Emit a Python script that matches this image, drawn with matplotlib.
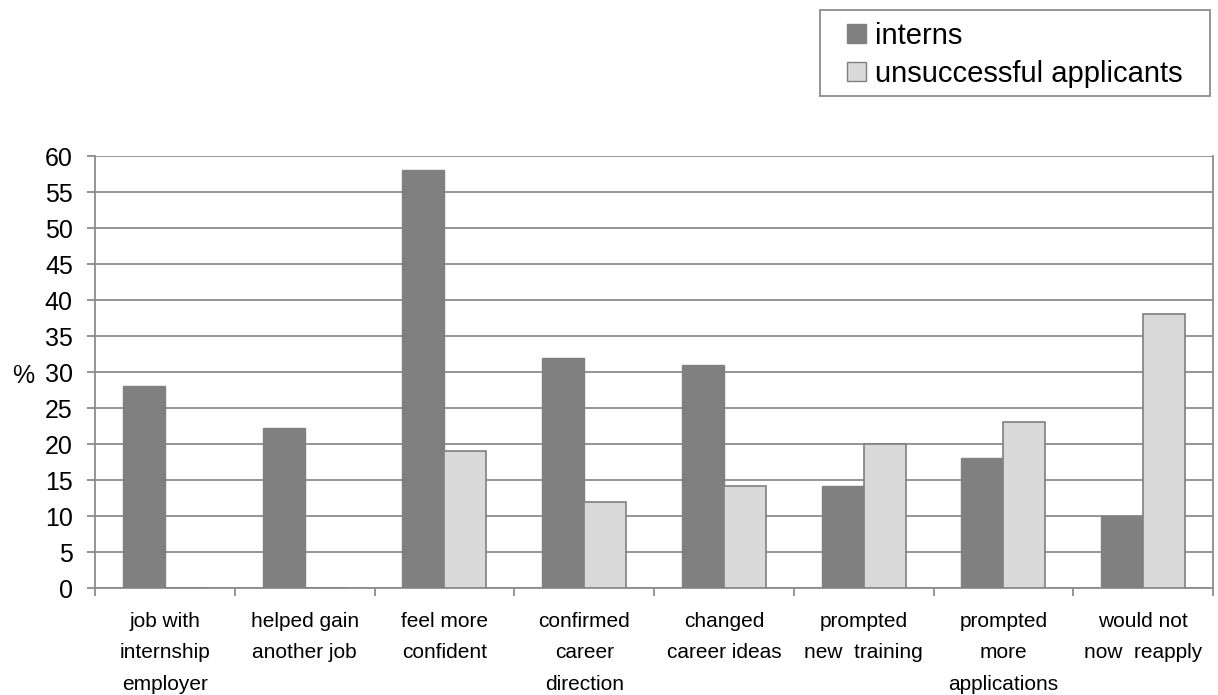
import numpy as np
import matplotlib.pyplot as plt
from matplotlib.patches import Patch, Rectangle

plt.rcParams['font.family'] = ['Liberation Sans', 'DejaVu Sans']

categories = ['job with\ninternship\nemployer', 'helped gain\nanother job',
              'feel more\nconfident', 'confirmed\ncareer\ndirection',
              'changed\ncareer ideas', 'prompted\nnew  training',
              'prompted\nmore\napplications', 'would not\nnow  reapply']
interns = [28, 22.2, 58, 32, 31, 14.2, 18, 10]
unsuccessful = [0, 0, 19, 12, 14.2, 20, 23, 38]

dark = '#808080'
light = '#d9d9d9'
line = '#8c8c8c'

W, H = 1218, 695
fig = plt.figure(figsize=(W / 100, H / 100), dpi=100)
ax = fig.add_axes([95 / W, 1 - 588 / H, (1213 - 95) / W, (588 - 156) / H])

x = np.arange(len(categories))
w = 0.3
ax.bar(x - w / 2, interns, w, color=dark, edgecolor=dark, linewidth=1, zorder=3)
ax.bar(x + w / 2, unsuccessful, w, color=light, edgecolor=dark, linewidth=1.2, zorder=3)

ax.set_xlim(-0.5, len(categories) - 0.5)
ax.set_ylim(0, 60)
ax.set_yticks(np.arange(0, 61, 5))
ax.yaxis.grid(True, color=line, linewidth=1.3, zorder=0)
ax.set_axisbelow(True)

# category labels centred, ticks on the boundaries
ax.set_xticks(x)
ax.set_xticklabels(categories, fontsize=15, linespacing=1.85, va='top')
ax.tick_params(axis='x', length=0, pad=17)
ax.set_xticks(np.arange(-0.5, len(categories)), minor=True)
ax.tick_params(axis='x', which='minor', length=6, width=1.3, color=line, direction='out')
ax.tick_params(axis='y', length=6, width=1.3, color=line, labelsize=18, pad=10)

for s in ax.spines.values():
    s.set_color(line)
    s.set_linewidth(1.3)
ax.spines['top'].set_visible(False)

fig.text(12 / W, 1 - 376 / H, '%', fontsize=18, ha='left', va='center')

# legend box drawn separately so its padding can be wider than tall
fig.patches.append(Rectangle((820 / W, 1 - 96 / H), 390 / W, 86 / H,
                             transform=fig.transFigure, facecolor='white',
                             edgecolor=line, linewidth=1.3))
handles = [Patch(facecolor=dark, edgecolor=dark), Patch(facecolor=light, edgecolor=dark)]
leg = fig.legend(handles, ['interns', 'unsuccessful applicants'],
                 loc='upper left', bbox_to_anchor=(847 / W, 1 - 22 / H),
                 fontsize=21, frameon=False, handlelength=0.65,
                 handleheight=0.65, handletextpad=0.3, borderpad=0,
                 borderaxespad=0, labelspacing=0.33)

fig.savefig('out.png', dpi=100)
